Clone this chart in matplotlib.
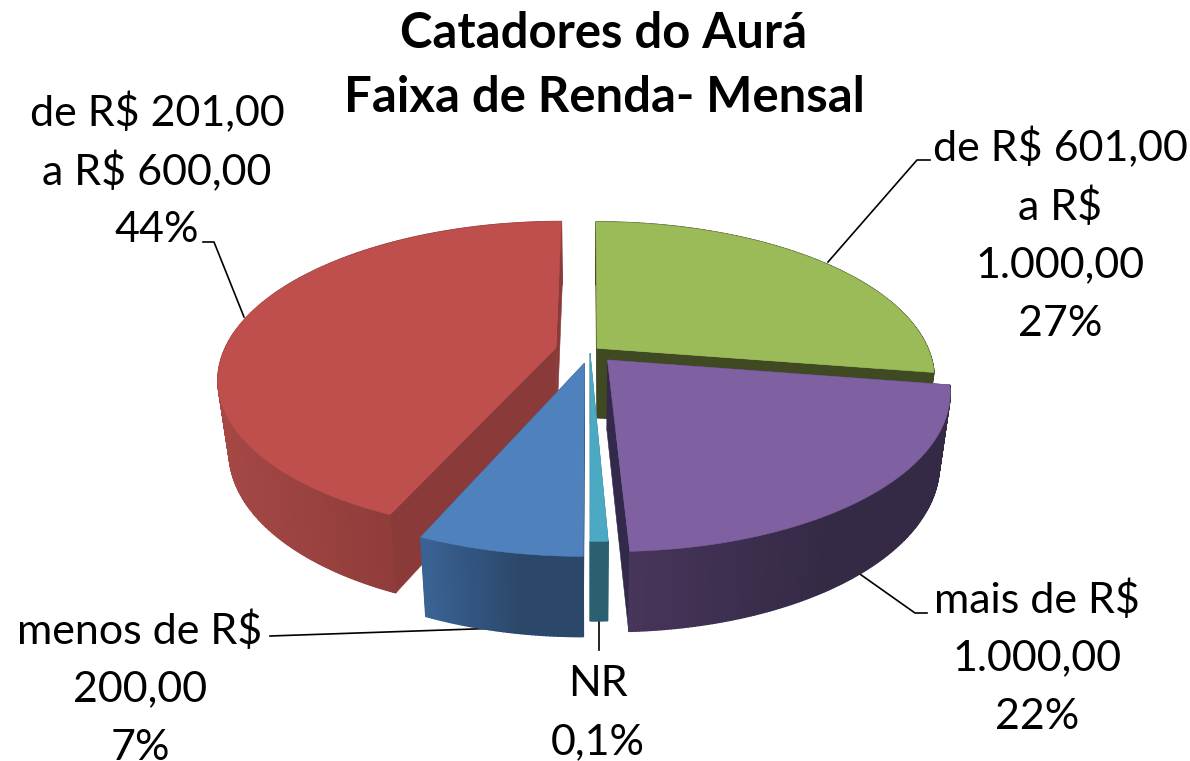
import numpy as np
import matplotlib
matplotlib.use("Agg")
import matplotlib.pyplot as plt

# fatias no sentido horario a partir do topo (%)
nomes = ["de R$ 601,00\na R$\n1.000,00\n27%", "mais de R$\n1.000,00\n22%", "NR\n0,1%",
         "menos de R$\n200,00\n7%", "de R$ 201,00\na R$ 600,00\n44%"]
fatias = [27.5, 21.8, 0.7, 6.5, 43.5]

cores = ["#9BBB59", "#7F60A0", "#4BA9C4", "#4F81BD", "#BE4F4C"]
cor_corte = ["#3F4A22", "#33294A", "#2A6070", "#2B4769", "#8A3A38"]
parede_esq = ["#3F4A22", "#47355A", "#2A6070", "#3A6496", "#A54845"]
parede_dir = ["#3F4A22", "#342A46", "#2A6070", "#2B4769", "#8A3A38"]
explosao = [0.028, 0.078, 0.015, 0.08, 0.105]
ordem = [0, 4, 2, 3, 1]

pos_texto = [(1060, 148), (1037, 600), (598, 684), (140, 631), (157, 113)]
guias = [[(828, 262), (917, 160), (930, 160)],
         [(857, 572), (915, 613), (927, 613)],
         [(599, 616), (599, 650)],
         [(503, 628), (270, 636)],
         [(244, 317), (214, 242), (203, 242)]]

cx, cy = 590, 351
R = 332
f = 5.26
k = 0.456
h = 70


def topo(X, Y):
    s = f / (f + Y)
    return cx + R * X * s, cy - R * k * Y * s


def base(X, Y):
    s = f / (f + Y)
    x, y = topo(X, Y)
    return cx + (x - cx) * 0.97, y + h * s ** 0.6


def mistura(a, b, t):
    ca = np.array(matplotlib.colors.to_rgb(a))
    cb = np.array(matplotlib.colors.to_rgb(b))
    return tuple(ca + (cb - ca) * t)


fig = plt.figure(figsize=(11.9, 7.61), dpi=100)
ax = fig.add_axes([0, 0, 1, 1])
ax.set_xlim(0, 1190)
ax.set_ylim(761, 0)
ax.axis("off")

# angulos das fatias
limites = 90 - np.cumsum([0] + fatias) * 3.6

for i in ordem:
    t1, t2 = limites[i], limites[i + 1]
    nivel = ordem.index(i)
    meio = np.radians((t1 + t2) / 2)
    ox = explosao[i] * np.cos(meio)
    oy = explosao[i] * np.sin(meio)
    th = np.radians(np.linspace(t1, t2, max(int(abs(t1 - t2)) * 2, 4)))
    X = ox + np.cos(th)
    Y = oy + np.sin(th)
    xt, yt = topo(X, Y)
    xb, yb = base(X, Y)
    x0, y0 = topo(ox, oy)
    x0b, y0b = base(ox, oy)

    # faces de corte
    for a in (0, -1):
        ax.fill([x0, xt[a], xb[a], x0b], [y0, yt[a], yb[a], y0b], color=cor_corte[i], lw=0.4,
                zorder=1.1 + nivel)

    # parede curva em tiras, com gradiente horizontal
    xmin, xmax = xt.min(), xt.max()
    for j in range(len(th) - 1):
        tt = (xt[j] - xmin) / max(xmax - xmin, 1)
        c = mistura(parede_esq[i], parede_dir[i], min(tt * 1.6, 1))
        ax.fill([xt[j], xt[j + 1], xb[j + 1], xb[j]], [yt[j], yt[j + 1], yb[j + 1], yb[j]],
                color=c, lw=1.0, zorder=1.2 + nivel)

    # tampo
    ax.fill(np.r_[x0, xt], np.r_[y0, yt], color=cores[i], lw=0.4, zorder=1.5 + nivel)

for g in guias:
    ax.plot([p[0] for p in g], [p[1] for p in g], color="black", lw=1.2, zorder=0.5)

fonte = "Lato"
for nome, (px, py) in zip(nomes, pos_texto):
    for n, linha in enumerate(nome.split("\n")):
        ax.text(px, py + n * 58.5, linha, ha="center", va="center", fontsize=31, family=fonte, color="black", zorder=10)

ax.text(604, 34, "Catadores do Aurá", ha="center", va="center", fontsize=35.3, fontweight="bold", family=fonte, zorder=10)
ax.text(604, 98, "Faixa de Renda- Mensal", ha="center", va="center", fontsize=35.3, fontweight="bold", family=fonte, zorder=10)

fig.savefig("out.png", dpi=100)
